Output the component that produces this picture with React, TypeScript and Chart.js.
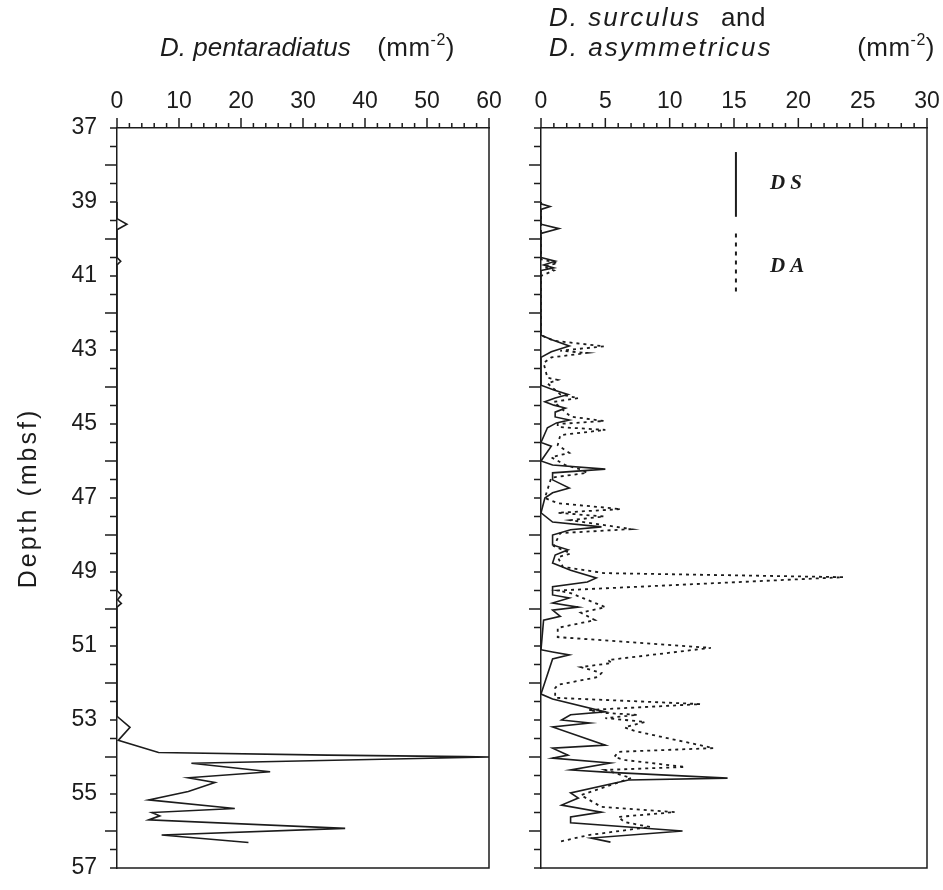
import React, { useEffect, useRef } from "react";
import { Chart, registerables } from "chart.js";

Chart.register(...registerables);

// ---------- data ----------
const depthRange = [37, 57];
const depthLabelStep = 2;
const depthMinorStep = 0.5;
const pentaRange = [0, 60];
const pentaLabelStep = 10;
const pentaMinorStep = 2;
const surRange = [0, 30];
const surLabelStep = 5;
const surMinorStep = 1;

const pentaDepth = [39.0, 39.45, 39.6, 39.75, 40.5, 40.6, 40.7, 49.5, 49.62, 49.75, 49.85, 49.95, 52.9, 53.2, 53.55, 53.88, 53.95, 53.99, 54.0, 54.17, 54.4, 54.56, 54.69, 54.93, 55.16, 55.39, 55.5, 55.59, 55.7, 55.93, 56.11, 56.31];
const pentaValues = [0, 0, 1.6, 0, 0, 0.6, 0, 0, 0.7, 0.1, 0.7, 0, 0, 2.1, 0.2, 6.7, 34, 56, 60, 12, 24.7, 11.5, 15.8, 11.5, 5.1, 19.0, 5.6, 6.9, 5.1, 36.8, 7.2, 21.2];

const dsDepth = [39.0, 39.05, 39.12, 39.2, 39.6, 39.72, 39.85, 40.5, 40.6, 40.7, 40.78, 40.85, 42.6, 42.73, 42.89, 43.05, 43.2, 43.95, 44.08, 44.2, 44.3, 44.4, 44.49, 44.57, 44.68, 44.81, 44.89, 44.97, 45.1, 45.5, 45.6, 46.0, 46.11, 46.22, 46.32, 46.51, 46.73, 46.86, 47.0, 47.4, 47.65, 47.78, 47.86, 48.0, 48.27, 48.4, 48.54, 48.76, 48.95, 49.16, 49.27, 49.4, 49.62, 49.7, 49.84, 49.95, 50.03, 50.2, 50.3, 51.1, 51.16, 51.24, 51.35, 52.3, 52.43, 52.78, 52.86, 53.0, 53.08, 53.19, 53.68, 53.76, 53.95, 54.03, 54.16, 54.35, 54.41, 54.57, 54.62, 54.97, 55.11, 55.3, 55.49, 55.62, 55.78, 56.0, 56.19, 56.3];
const dsValues = [0, 0, 0.7, 0, 0, 1.4, 0, 0, 1.1, 0.2, 1.0, 0, 0, 0.9, 2.2, 0.8, 0, 0, 1.0, 2.1, 1.1, 0.3, 1.0, 1.9, 1.1, 1.1, 2.2, 1.2, 0.5, 0, 0.8, 0, 0.9, 5.0, 0.9, 0.9, 2.2, 0.9, 0.3, 0, 0.9, 4.7, 2.3, 0.9, 0.9, 2.1, 1.1, 0.9, 2.3, 4.3, 3.6, 0.9, 0.9, 2.2, 0.9, 2.9, 0.9, 1.5, 0.2, 0, 0.9, 2.2, 0.9, 0, 0.9, 5.0, 2.3, 1.6, 3.8, 0.9, 5.0, 0.9, 2.1, 0.9, 5.4, 2.3, 5.0, 14.5, 6.8, 2.3, 2.9, 1.6, 4.7, 2.3, 2.3, 11.0, 3.9, 5.4];

const daDepth = [39.0, 40.55, 40.65, 40.75, 40.85, 41.0, 42.6, 42.75, 42.9, 43.02, 43.08, 43.2, 43.35, 43.75, 43.81, 43.9, 44.2, 44.3, 44.4, 44.8, 44.92, 45.0, 45.08, 45.16, 45.3, 45.57, 45.78, 45.9, 46.11, 46.22, 46.32, 46.45, 47.0, 47.14, 47.3, 47.4, 47.5, 47.6, 47.84, 47.95, 48.3, 48.45, 48.5, 48.6, 48.86, 49.03, 49.14, 49.5, 49.57, 49.95, 50.1, 50.3, 50.51, 50.76, 51.05, 51.38, 51.46, 51.57, 51.73, 51.84, 52.05, 52.14, 52.4, 52.57, 52.73, 52.81, 52.86, 52.95, 53.05, 53.2, 53.3, 53.76, 53.86, 54.0, 54.08, 54.27, 54.35, 54.57, 55.03, 55.35, 55.49, 55.62, 55.76, 55.89, 56.11, 56.3];
const daValues = [0, 0, 1.3, 0.2, 1.0, 0, 0, 1.0, 4.9, 1.5, 3.6, 0.8, 0.2, 0.5, 1.3, 0.5, 1.5, 2.9, 1.0, 2.3, 4.9, 1.3, 1.3, 5.0, 1.5, 1.3, 2.2, 0.8, 1.9, 3.0, 3.6, 0.8, 0.3, 1.3, 6.2, 1.3, 4.9, 2.3, 7.0, 1.5, 1.0, 2.0, 2.3, 1.3, 1.7, 4.9, 23.5, 1.3, 2.3, 5.0, 3.1, 4.2, 1.3, 1.3, 13.2, 5.2, 5.5, 3.1, 4.7, 4.4, 1.3, 1.1, 1.1, 12.4, 3.7, 5.0, 7.5, 5.0, 8.1, 6.5, 7.3, 13.4, 6.0, 5.7, 6.5, 11.2, 5.0, 7.0, 3.1, 4.7, 10.4, 6.0, 6.5, 8.5, 3.7, 1.3];

const legendNames = ["DS", "DA"];

// ---------- style ----------
const INK = "#1c1c1c";
const SANS = "'Liberation Sans', Arial, sans-serif";
const SERIF = "'Liberation Serif', 'Times New Roman', serif";
const TICK_FONT = 23;
const TITLE_FONT = 26;

type Part = { text: string; font: string; dy?: number };

function partsWidth(ctx: CanvasRenderingContext2D, parts: Part[]) {
  let w = 0;
  for (const p of parts) {
    ctx.font = p.font;
    w += ctx.measureText(p.text).width;
  }
  return w;
}

function drawRich(ctx: CanvasRenderingContext2D, x: number, y: number, parts: Part[]) {
  let cx = x;
  for (const p of parts) {
    ctx.font = p.font;
    ctx.fillText(p.text, cx, y + (p.dy || 0));
    cx += ctx.measureText(p.text).width;
  }
}

const unitParts: Part[] = [
  { text: "(mm", font: `${TITLE_FONT}px ${SANS}` },
  { text: "-2", font: `${Math.round(TITLE_FONT * 0.62)}px ${SANS}`, dy: -11 },
  { text: ")", font: `${TITLE_FONT}px ${SANS}` },
];

function framePlugin(minorX: number, majorX: number) {
  return {
    id: "frameTicks",
    afterDraw(chart: any) {
      const { ctx, chartArea: a, scales } = chart;
      const x = scales.x;
      const y = scales.y;
      ctx.save();
      ctx.strokeStyle = INK;
      ctx.lineWidth = 1.5;
      ctx.beginPath();
      ctx.moveTo(a.right, a.top);
      ctx.lineTo(a.right, a.bottom);
      ctx.lineTo(a.left, a.bottom);
      const nX = Math.round((x.max - x.min) / minorX);
      for (let i = 0; i <= nX; i++) {
        const v = x.min + i * minorX;
        const px = x.getPixelForValue(v);
        const major = Math.abs(v / majorX - Math.round(v / majorX)) < 1e-6;
        ctx.moveTo(px, a.top);
        ctx.lineTo(px, a.top - (major ? 10 : 5));
      }
      const nY = Math.round((y.max - y.min) / depthMinorStep);
      for (let i = 0; i <= nY; i++) {
        const d = y.min + i * depthMinorStep;
        const py = y.getPixelForValue(d);
        const major = Math.abs(d / depthLabelStep - Math.round(d / depthLabelStep)) < 1e-6;
        ctx.moveTo(a.left, py);
        ctx.lineTo(a.left - (major ? 12 : 7), py);
      }
      ctx.stroke();
      ctx.restore();
    },
  };
}

const leftTitlePlugin = {
  id: "leftTitle",
  afterDraw(chart: any) {
    const { ctx, chartArea: a } = chart;
    ctx.save();
    ctx.fillStyle = INK;
    ctx.textBaseline = "alphabetic";
    (ctx as any).letterSpacing = "0px";
    drawRich(ctx, a.left + 43, 56, [{ text: "D. pentaradiatus", font: `italic ${TITLE_FONT}px ${SANS}` }]);
    (ctx as any).letterSpacing = "0.5px";
    const uw = partsWidth(ctx, unitParts);
    drawRich(ctx, a.left + 338 - uw, 56, unitParts);
    // y-axis title
    ctx.translate(29, (a.top + a.bottom) / 2);
    ctx.rotate(-Math.PI / 2);
    ctx.textAlign = "center";
    ctx.textBaseline = "middle";
    ctx.font = `${TITLE_FONT - 1}px ${SANS}`;
    (ctx as any).letterSpacing = "3px";
    ctx.fillText("Depth (mbsf)", 0, 0);
    ctx.restore();
  },
};

const rightTitlePlugin = {
  id: "rightTitle",
  afterDraw(chart: any) {
    const { ctx, chartArea: a, scales } = chart;
    ctx.save();
    ctx.fillStyle = INK;
    ctx.textBaseline = "alphabetic";
    (ctx as any).letterSpacing = "2px";
    drawRich(ctx, a.left + 8, 26, [{ text: "D. surculus", font: `italic ${TITLE_FONT}px ${SANS}` }]);
    drawRich(ctx, a.left + 8, 56, [{ text: "D. asymmetricus", font: `italic ${TITLE_FONT}px ${SANS}` }]);
    (ctx as any).letterSpacing = "0.5px";
    drawRich(ctx, a.left + 180, 26, [{ text: "and", font: `${TITLE_FONT}px ${SANS}` }]);
    const uw = partsWidth(ctx, unitParts);
    drawRich(ctx, a.right + 8 - uw, 56, unitParts);
    // legend
    const x = scales.x;
    const y = scales.y;
    const lx = x.getPixelForValue(15.15);
    ctx.strokeStyle = INK;
    ctx.lineWidth = 2;
    ctx.beginPath();
    ctx.moveTo(lx, y.getPixelForValue(37.65));
    ctx.lineTo(lx, y.getPixelForValue(39.4));
    ctx.stroke();
    ctx.setLineDash([4, 5]);
    ctx.beginPath();
    ctx.moveTo(lx, y.getPixelForValue(39.85));
    ctx.lineTo(lx, y.getPixelForValue(41.45));
    ctx.stroke();
    ctx.setLineDash([]);
    ctx.font = `italic bold 21px ${SERIF}`;
    (ctx as any).letterSpacing = "5px";
    ctx.textBaseline = "middle";
    const tx = x.getPixelForValue(17.8);
    ctx.fillText(legendNames[0], tx, y.getPixelForValue(38.5));
    ctx.fillText(legendNames[1], tx, y.getPixelForValue(40.75));
    ctx.restore();
  },
};

function toPoints(depths: number[], values: number[]) {
  return depths.map((d, i) => ({ x: values[i], y: d }));
}

function zeroPad(s: any) {
  s.paddingLeft = 0;
  s.paddingRight = 0;
  s.paddingTop = 0;
  s.paddingBottom = 0;
}

function makeConfig(opts: {
  datasets: any[];
  xRange: number[];
  xStep: number;
  yWidth: number;
  padRight: number;
  showY: boolean;
  plugins: any[];
}) {
  return {
    type: "scatter" as const,
    data: { datasets: opts.datasets },
    plugins: opts.plugins,
    options: {
      animation: false as const,
      responsive: false,
      maintainAspectRatio: false,
      devicePixelRatio: 1,
      layout: { padding: { left: 0, right: opts.padRight, top: 0, bottom: 22 } },
      plugins: { legend: { display: false }, tooltip: { enabled: false }, title: { display: false } },
      elements: { point: { radius: 0, hoverRadius: 0 }, line: { tension: 0 } },
      scales: {
        x: {
          type: "linear" as const,
          position: "top" as const,
          min: opts.xRange[0],
          max: opts.xRange[1],
          ticks: {
            stepSize: opts.xStep,
            padding: 13,
            color: INK,
            font: { family: SANS, size: TICK_FONT },
            maxRotation: 0,
            autoSkip: false,
          },
          grid: { drawOnChartArea: false, drawTicks: false },
          border: { display: true, color: INK, width: 1.5 },
          afterFit: (s: any) => {
            s.height = 128;
            zeroPad(s);
          },
        },
        y: {
          type: "linear" as const,
          reverse: true,
          min: depthRange[0],
          max: depthRange[1],
          ticks: {
            display: opts.showY,
            stepSize: depthLabelStep,
            padding: 20,
            color: INK,
            font: { family: SANS, size: TICK_FONT },
            autoSkip: false,
          },
          grid: { drawOnChartArea: false, drawTicks: false },
          border: { display: true, color: INK, width: 1.5 },
          afterFit: (s: any) => {
            s.width = opts.yWidth;
            zeroPad(s);
          },
        },
      },
    },
  };
}

export default function App() {
  const leftRef = useRef<HTMLCanvasElement | null>(null);
  const rightRef = useRef<HTMLCanvasElement | null>(null);

  useEffect(() => {
    if (!leftRef.current || !rightRef.current) return;
    const left = new Chart(
      leftRef.current,
      makeConfig({
        datasets: [
          {
            label: "D. pentaradiatus",
            data: toPoints(pentaDepth, pentaValues),
            showLine: true,
            borderColor: INK,
            borderWidth: 1.6,
            pointRadius: 0,
          },
        ],
        xRange: pentaRange,
        xStep: pentaLabelStep,
        yWidth: 117,
        padRight: 26,
        showY: true,
        plugins: [framePlugin(pentaMinorStep, pentaLabelStep), leftTitlePlugin],
      }) as any
    );
    const right = new Chart(
      rightRef.current,
      makeConfig({
        datasets: [
          {
            label: legendNames[0],
            data: toPoints(dsDepth, dsValues),
            showLine: true,
            borderColor: INK,
            borderWidth: 1.6,
            pointRadius: 0,
          },
          {
            label: legendNames[1],
            data: toPoints(daDepth, daValues),
            showLine: true,
            borderColor: INK,
            borderWidth: 1.8,
            borderDash: [3, 4],
            pointRadius: 0,
          },
        ],
        xRange: surRange,
        xStep: surLabelStep,
        yWidth: 41,
        padRight: 16,
        showY: false,
        plugins: [framePlugin(surMinorStep, surLabelStep), rightTitlePlugin],
      }) as any
    );
    return () => {
      left.destroy();
      right.destroy();
    };
  }, []);

  return (
    <div style={{ position: "absolute", left: 0, top: 0, width: 943, height: 890, background: "#fff" }}>
      <canvas ref={leftRef} width={515} height={890} style={{ position: "absolute", left: 0, top: 0, width: 515, height: 890 }} />
      <canvas ref={rightRef} width={443} height={890} style={{ position: "absolute", left: 500, top: 0, width: 443, height: 890 }} />
    </div>
  );
}
